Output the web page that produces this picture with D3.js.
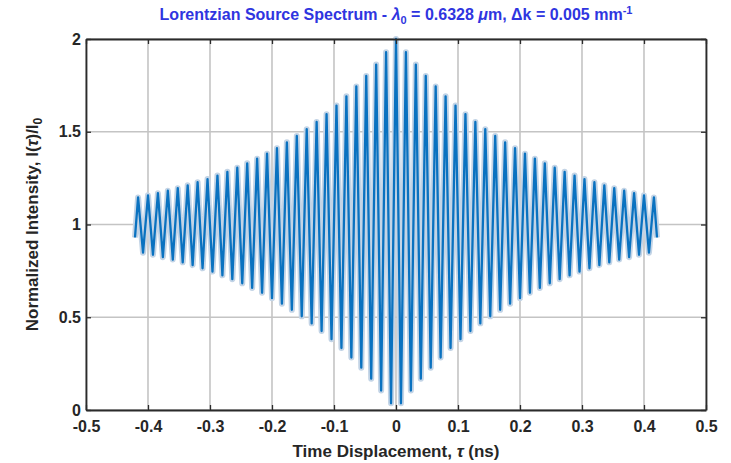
<!DOCTYPE html>
<html>
<head>
<meta charset="utf-8">
<script src="https://cdn.jsdelivr.net/npm/d3@7/dist/d3.min.js"></script>
<style>
  body { margin: 0; background: #fff; }
  svg { display: block; font-family: "Liberation Sans", Arial, sans-serif; }
</style>
</head>
<body>
<div id="chart"></div>
<script>
// extrema of the interferogram (tau in ns)
const tauNs = [
  -0.421, -0.416, -0.408, -0.400, -0.392, -0.384, -0.376, -0.368, -0.360, -0.352,
  -0.344, -0.336, -0.328, -0.320, -0.312, -0.304, -0.296, -0.288, -0.280, -0.272,
  -0.264, -0.256, -0.248, -0.240, -0.232, -0.224, -0.216, -0.208, -0.200, -0.192,
  -0.184, -0.176, -0.168, -0.160, -0.152, -0.144, -0.136, -0.128, -0.120, -0.112,
  -0.104, -0.096, -0.088, -0.080, -0.072, -0.064, -0.056, -0.048, -0.040, -0.032,
  -0.024, -0.016, -0.008, 0,
  0.008, 0.016, 0.024, 0.032, 0.040, 0.048, 0.056, 0.064, 0.072, 0.080,
  0.088, 0.096, 0.104, 0.112, 0.120, 0.128, 0.136, 0.144, 0.152, 0.160,
  0.168, 0.176, 0.184, 0.192, 0.200, 0.208, 0.216, 0.224, 0.232, 0.240,
  0.248, 0.256, 0.264, 0.272, 0.280, 0.288, 0.296, 0.304, 0.312, 0.320,
  0.328, 0.336, 0.344, 0.352, 0.360, 0.368, 0.376, 0.384, 0.392, 0.400,
  0.408, 0.416, 0.421
];

const intensity = [
  0.93, 1.146, 0.848, 1.157, 0.837, 1.169, 0.824, 1.182, 0.811, 1.196,
  0.796, 1.211, 0.781, 1.228, 0.764, 1.245, 0.746, 1.264, 0.726, 1.284,
  0.705, 1.306, 0.683, 1.330, 0.658, 1.355, 0.632, 1.382, 0.603, 1.411,
  0.573, 1.443, 0.540, 1.477, 0.505, 1.514, 0.467, 1.553, 0.426, 1.595,
  0.382, 1.641, 0.334, 1.691, 0.283, 1.744, 0.228, 1.801, 0.169, 1.862,
  0.105, 1.929, 0.036, 2.000,
  0.036, 1.929, 0.105, 1.862, 0.169, 1.801, 0.228, 1.744, 0.283, 1.691,
  0.334, 1.641, 0.382, 1.595, 0.426, 1.553, 0.467, 1.514, 0.505, 1.477,
  0.540, 1.443, 0.573, 1.411, 0.603, 1.382, 0.632, 1.355, 0.658, 1.330,
  0.683, 1.306, 0.705, 1.284, 0.726, 1.264, 0.746, 1.245, 0.764, 1.228,
  0.781, 1.211, 0.796, 1.196, 0.811, 1.182, 0.824, 1.169, 0.837, 1.157,
  0.848, 1.146, 0.93
];

const xTicks = [-0.5, -0.4, -0.3, -0.2, -0.1, 0, 0.1, 0.2, 0.3, 0.4, 0.5];
const yTicks = [0, 0.5, 1, 1.5, 2];

const width = 731, height = 463;
const margin = { top: 39, right: 25, bottom: 53, left: 86 };
const innerW = width - margin.left - margin.right;
const innerH = height - margin.top - margin.bottom;

const svg = d3.select('#chart')
  .append('svg')
  .attr('width', width)
  .attr('height', height);

const g = svg.append('g')
  .attr('transform', `translate(${margin.left},${margin.top})`);

const x = d3.scaleLinear().domain([-0.5, 0.5]).range([0, innerW]);
const y = d3.scaleLinear().domain([0, 2]).range([innerH, 0]);

// grid
g.append('g')
  .selectAll('line')
  .data(xTicks)
  .enter().append('line')
  .attr('x1', d => x(d)).attr('x2', d => x(d))
  .attr('y1', 0).attr('y2', innerH)
  .attr('stroke', '#c4c4c4')
  .attr('stroke-width', 1.6);

g.append('g')
  .selectAll('line')
  .data(yTicks)
  .enter().append('line')
  .attr('x1', 0).attr('x2', innerW)
  .attr('y1', d => y(d)).attr('y2', d => y(d))
  .attr('stroke', '#c4c4c4')
  .attr('stroke-width', 1.6);

// signal: light halo under a solid blue trace
const pts = tauNs.map((t, i) => [t, intensity[i]]);
const line = d3.line()
  .x(d => x(d[0]))
  .y(d => y(d[1]));

g.append('path')
  .datum(pts)
  .attr('fill', 'none')
  .attr('stroke', '#c3d4e6')
  .attr('stroke-width', 6)
  .attr('stroke-linejoin', 'round')
  .attr('d', line);

g.append('path')
  .datum(pts)
  .attr('fill', 'none')
  .attr('stroke', '#0a72c0')
  .attr('stroke-width', 2.3)
  .attr('stroke-linejoin', 'round')
  .attr('d', line);

// axes (ticks pointing inward, box on)
const tickFmt = d => String(d);
g.append('g')
  .attr('transform', `translate(0,${innerH})`)
  .call(d3.axisBottom(x).tickValues(xTicks).tickSizeInner(-5).tickSizeOuter(0).tickPadding(11).tickFormat(tickFmt));
g.append('g')
  .call(d3.axisLeft(y).tickValues(yTicks).tickSizeInner(-5).tickSizeOuter(0).tickPadding(5).tickFormat(tickFmt));
g.append('g')
  .call(d3.axisTop(x).tickValues(xTicks).tickSizeInner(-5).tickSizeOuter(0).tickFormat(''));
g.append('g')
  .attr('transform', `translate(${innerW},0)`)
  .call(d3.axisRight(y).tickValues(yTicks).tickSizeInner(-5).tickSizeOuter(0).tickFormat(''));

g.selectAll('.domain').attr('stroke', '#2b2b2b').attr('stroke-width', 1.8);
g.selectAll('.tick line').attr('stroke', '#2b2b2b').attr('stroke-width', 1.3);
g.selectAll('.tick text')
  .attr('fill', '#262626')
  .attr('font-size', 16)
  .attr('font-weight', 'bold');

// title
const title = svg.append('text')
  .attr('x', margin.left + innerW / 2)
  .attr('y', 20)
  .attr('text-anchor', 'middle')
  .attr('font-size', 16)
  .attr('font-weight', 'bold')
  .attr('fill', '#2f35e0');
title.append('tspan').text('Lorentzian Source Spectrum - ');
title.append('tspan').attr('font-style', 'italic').text('λ');
title.append('tspan').attr('font-size', 11).attr('dy', 4).text('0');
title.append('tspan').attr('dy', -4).text(' = 0.6328 ');
title.append('tspan').attr('font-style', 'italic').text('μ');
title.append('tspan').text('m, Δk = 0.005 mm');
title.append('tspan').attr('font-size', 11).attr('dy', -6).text('-1');

// axis labels
const xl = svg.append('text')
  .attr('x', margin.left + innerW / 2)
  .attr('y', 457)
  .attr('text-anchor', 'middle')
  .attr('font-size', 17)
  .attr('font-weight', 'bold')
  .attr('fill', '#262626');
xl.append('tspan').text('Time Displacement, ');
xl.append('tspan').attr('font-style', 'italic').text('τ');
xl.append('tspan').text(' (ns)');

const yl = svg.append('text')
  .attr('transform', `translate(38,${margin.top + innerH / 2}) rotate(-90)`)
  .attr('text-anchor', 'middle')
  .attr('font-size', 17)
  .attr('font-weight', 'bold')
  .attr('fill', '#262626');
yl.append('tspan').text('Normalized Intensity, I(');
yl.append('tspan').attr('font-style', 'italic').text('τ');
yl.append('tspan').text(')/I');
yl.append('tspan').attr('font-size', 12).attr('dy', 4).text('0');
</script>
</body>
</html>
